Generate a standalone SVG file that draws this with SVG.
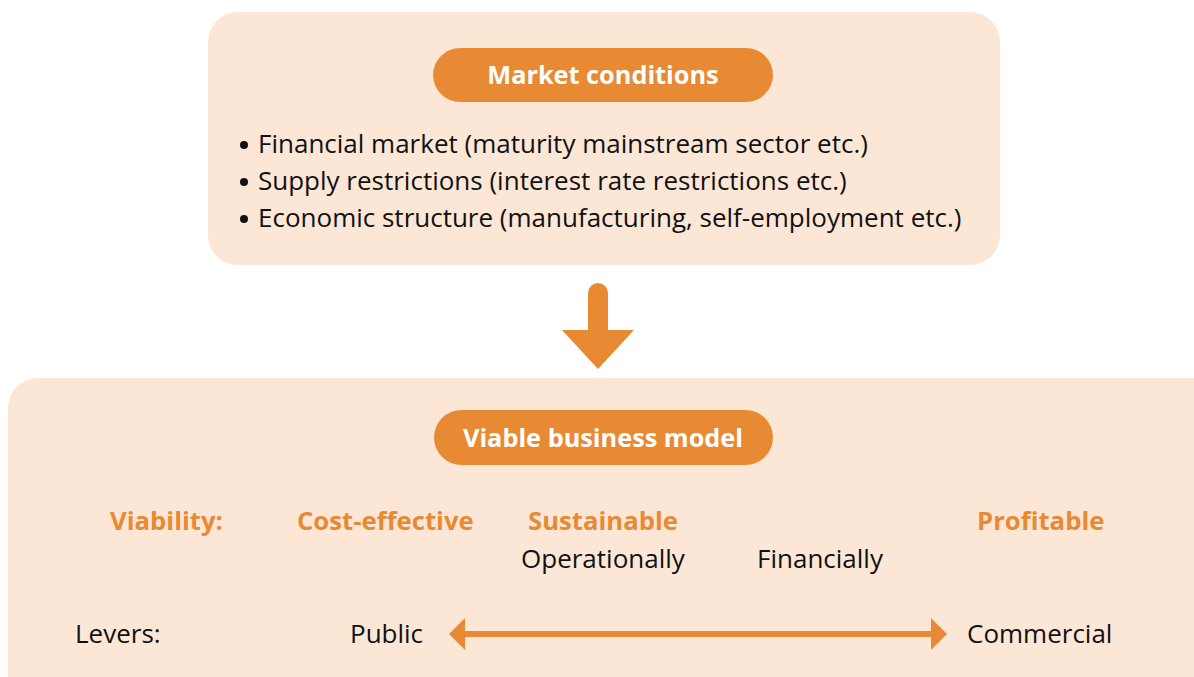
<svg xmlns="http://www.w3.org/2000/svg" width="1194" height="677" viewBox="0 0 1194 677">
<style>
.panel{fill:#FCE7D7}
.pill{fill:#E88A33}
.pt{font-family:"Open Sans",sans-serif;font-weight:bold;font-size:25.3px;fill:#fff;text-anchor:middle}
.b{font-family:"Open Sans",sans-serif;font-size:26px;fill:#111}
.o{font-family:"Open Sans",sans-serif;font-weight:bold;font-size:25.7px;fill:#E88A33}
.dot{fill:#111}
</style>
<rect width="1194" height="677" fill="#fff"/>
<g id="market">
<rect class="panel" x="208" y="12" width="792" height="253" rx="30"/>
<rect class="pill" x="433" y="48" width="340" height="54" rx="27"/>
<text class="pt" x="603" y="84">Market conditions</text>
<circle class="dot" cx="244" cy="145" r="4"/>
<circle class="dot" cx="244" cy="182" r="4"/>
<circle class="dot" cx="244" cy="219" r="4"/>
<text class="b" x="258" y="153">Financial market (maturity mainstream sector etc.)</text>
<text class="b" x="258" y="190">Supply restrictions (interest rate restrictions etc.)</text>
<text class="b" x="258" y="227">Economic structure (manufacturing, self-employment etc.)</text>
</g>
<g id="business">
<rect class="panel" x="8" y="378" width="1220" height="340" rx="30"/>
<rect class="pill" x="434" y="410" width="339" height="55" rx="27.5"/>
<text class="pt" x="603" y="447">Viable business model</text>
<text class="o" x="110" y="530">Viability:</text>
<text class="o" x="297" y="530">Cost-effective</text>
<text class="o" x="528" y="530">Sustainable</text>
<text class="o" x="977" y="530">Profitable</text>
<text class="b" x="521" y="568">Operationally</text>
<text class="b" x="757" y="568">Financially</text>
<text class="b" x="75" y="643">Levers:</text>
<text class="b" x="350" y="643">Public</text>
<text class="b" x="967" y="643">Commercial</text>
</g>
<g id="connectors">
<path d="M588 293 A10 10 0 0 1 608 293 L608 330 L634 330 L598 369 L562 330 L588 330 Z" fill="#E88A33"/>
<line x1="462" y1="634" x2="934" y2="634" stroke="#E88A33" stroke-width="6"/>
<path d="M449 634 L465 618 L465 650 Z M947 634 L931 618 L931 650 Z" fill="#E88A33"/>
</g>
</svg>
